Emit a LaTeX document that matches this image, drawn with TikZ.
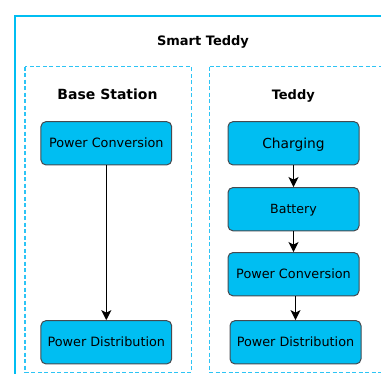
\documentclass[tikz,border=0pt]{standalone}
\usepackage{fontspec}
\setmainfont{DejaVu Sans}
\usepackage{xcolor}
\usetikzlibrary{arrows.meta,positioning}

\definecolor{teddycyan}{RGB}{0,190,242}
\definecolor{teddydash}{RGB}{45,196,245}
\definecolor{teddyedge}{RGB}{70,74,80}

\tikzset{
    block/.style={draw=teddyedge, fill=teddycyan, rounded corners=5pt, line width=1pt,
        minimum width=131pt, minimum height=43.3pt, inner sep=0pt,
        text height=9.3pt, text depth=0pt, font=\fontsize{12.8}{15}\selectfont},
    group/.style={draw=teddydash, line width=1.3pt, dash pattern=on 4pt off 2.5pt},
    flow/.style={-{Stealth[length=10pt,width=10pt,inset=2.5pt]}, line width=1.3pt, black},
    title/.style={anchor=base, font=\bfseries\fontsize{14}{16}\selectfont}
}

\begin{document}
\begin{tikzpicture}[x=1pt, y=-1pt]
        \useasboundingbox (0,0) rectangle (381,374);
        \clip (0,0) rectangle (381,374);

        % Outer frame
        \draw[teddycyan, line width=2pt] (15,16) rectangle (400,400);
        \node[title, font=\bfseries\fontsize{13}{15}\selectfont] (smart) at (203,45.3) {Smart Teddy};

        % Groups
        \draw[group] (25,66.7) rectangle (191.7,372.3);
        \draw[group] (209.3,66.7) rectangle (400,372.3);
        \node[title] (basetitle) at (107.5,100) {Base Station};
        \node[title, font=\bfseries\fontsize{13}{15}\selectfont] (teddytitle) at (293.3,100) {Teddy};

        % Base station blocks
        \node[block, minimum width=130.7pt] (pcBase) at (106.3,143.3) {Power Conversion};
        \node[block, minimum width=130.7pt] (pdBase) at (106.3,342.3) {Power Distribution};

        % Teddy blocks
        \node[block, font=\fontsize{13.8}{16}\selectfont, text height=10pt] (charging) at (293.5,143.3) {Charging};
        \node[block, font=\fontsize{12.6}{15}\selectfont, text height=9.2pt] (battery) at (293.5,209.2) {Battery};
        \node[block] (pcTeddy) at (293.5,274.2) {Power Conversion};
        \node[block] (pdTeddy) at (295.5,342.3) {Power Distribution};

        % Connectors
        \draw[flow] (pcBase) -- (pdBase);
        \draw[flow] (charging) -- (battery);
        \draw[flow] (battery) -- (pcTeddy);
        \draw[flow] (pdTeddy.north |- pcTeddy.south) -- (pdTeddy.north);
    \end{tikzpicture}
\end{document}
